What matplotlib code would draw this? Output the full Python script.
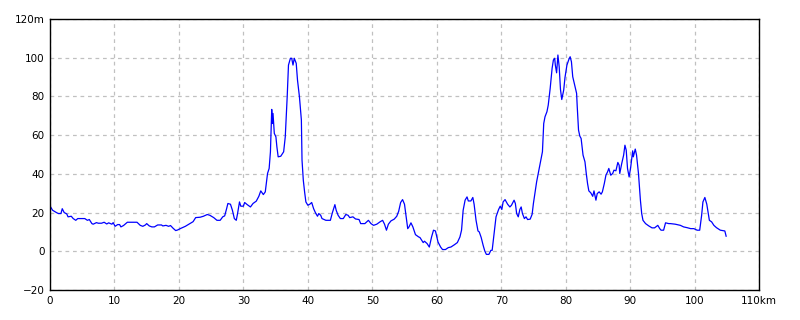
import matplotlib
matplotlib.use('Agg')
import matplotlib.pyplot as plt
from matplotlib.ticker import FuncFormatter, MultipleLocator

# 距離 (km)
dist_km = [0, 0.4, 1.0, 1.3, 1.7, 1.9, 2.2, 2.6, 2.8, 3.3, 3.6, 4.0, 4.3, 5.4, 5.8, 6.1, 6.5, 6.7,
           7.2, 7.5, 8.0, 8.4, 8.8, 9.1, 9.6, 9.8, 10.1, 10.5, 10.8, 11.0, 11.4, 12.0, 13.5, 14.0,
           14.4, 14.8, 15.0, 15.4, 15.8, 16.2, 16.7, 17.3, 17.5, 18.0, 18.4, 18.7, 19.1, 19.5, 19.8,
           20.2, 21.0, 21.7, 22.2, 22.6, 23.3, 23.8, 24.4, 24.8, 25.4, 25.9, 26.4, 26.8, 27.1, 27.4,
           27.6, 28.0, 28.3, 28.6, 28.9, 29.1, 29.4, 29.6, 30.0, 30.2, 30.6, 31.1, 31.5, 32.0, 32.4,
           32.7, 33.1, 33.4, 33.75, 34.0, 34.2, 34.4, 34.5, 34.6, 34.8, 35.05, 35.2, 35.4, 35.8,
           36.25, 36.5, 36.8, 37.0, 37.3, 37.5, 37.7, 37.9, 38.2, 38.4, 38.7, 39.0, 39.1, 39.3,
           39.5, 39.7, 40.0, 40.3, 40.6, 40.9, 41.2, 41.5, 41.7, 42.0, 42.2, 42.8, 43.5, 43.8, 44.2,
           44.4, 44.7, 45.05, 45.5, 45.9, 46.25, 46.5, 47.0, 47.4, 47.95, 48.2, 48.85, 49.4, 49.8,
           50.2, 50.7, 51.2, 51.6, 51.9, 52.2, 52.5, 52.9, 53.4, 53.8, 54.1, 54.4, 54.7, 55.0,
           55.25, 55.5, 55.7, 56.0, 56.3, 56.7, 57.2, 57.4, 57.9, 58.1, 58.5, 58.85, 59.2, 59.5,
           59.8, 60.2, 60.6, 60.9, 61.35, 61.8, 62.2, 62.75, 63.2, 63.6, 63.85, 64.1, 64.4, 64.7,
           64.9, 65.3, 65.6, 65.8, 66.1, 66.4, 66.6, 66.9, 67.2, 67.45, 67.7, 68.1, 68.4, 68.6,
           68.9, 69.2, 69.6, 69.85, 70.1, 70.3, 70.6, 71.0, 71.35, 71.6, 72.0, 72.2, 72.4, 72.65,
           72.9, 73.1, 73.3, 73.6, 73.85, 74.1, 74.5, 74.8, 75.0, 75.3, 75.5, 75.8, 76.1, 76.4,
           76.6, 76.8, 77.1, 77.3, 77.6, 77.9, 78.1, 78.3, 78.4, 78.6, 78.8, 79.0, 79.2, 79.4,
           79.7, 79.9, 80.2, 80.5, 80.7, 80.9, 81.1, 81.4, 81.7, 81.8, 82.0, 82.2, 82.4, 82.7,
           83.0, 83.2, 83.4, 83.6, 83.9, 84.2, 84.4, 84.7, 84.9, 85.2, 85.5, 85.7, 86.0, 86.25,
           86.5, 86.7, 87.0, 87.3, 87.5, 87.8, 88.1, 88.3, 88.4, 88.7, 89.0, 89.2, 89.4, 89.6,
           89.85, 90.1, 90.4, 90.5, 90.8, 91.0, 91.3, 91.6, 91.8, 92.0, 92.4, 92.9, 93.4, 93.8,
           94.3, 94.6, 94.8, 95.2, 95.5, 96.0, 96.25, 97.0, 97.8, 98.3, 98.85, 99.4, 99.9, 100.4,
           100.8, 101.1, 101.3, 101.6, 101.9, 102.1, 102.3, 102.65, 103.0, 103.4, 104.0, 104.7,
           104.9]

# 標高 (m)
elev_m = [23.4, 21.2, 20, 19.5, 19.5, 22, 20, 19.3, 17.8, 18.1, 16.9, 16, 16.9, 16.9, 16, 16.4,
          14.3, 14, 14.8, 14.5, 14.5, 15, 14.1, 14.7, 14, 14.8, 12.9, 13.8, 13.8, 12.6, 13.3, 15,
          15, 13.4, 12.9, 13.6, 14.3, 13.1, 12.6, 12.6, 13.6, 13.6, 13.1, 13.4, 12.9, 13.3, 11.9,
          10.7, 11, 11.7, 12.9, 14.3, 15.3, 17.4, 17.6, 18.1, 19, 18.6, 17.4, 16, 16, 17.8, 18.3,
          22, 24.7, 24.3, 21.2, 16.9, 16, 19.5, 25.5, 23.3, 23.3, 25.2, 24.1, 22.9, 24.7, 25.9,
          28.4, 31.2, 29.3, 30.7, 40.2, 42.8, 51.4, 73.3, 66, 71.2, 60.9, 59.1, 54, 48.8, 49.1,
          51.4, 59.1, 79.8, 96.2, 99.7, 99.7, 96.2, 99.7, 97.1, 88.4, 79.8, 67.8, 47.1, 36.7,
          30.7, 25.5, 23.8, 24.3, 25.2, 22, 19.8, 18.1, 19.5, 18.6, 16.9, 16, 16, 19.8, 24.1,
          21.2, 18.6, 16.9, 16.9, 19, 18.6, 17.4, 17.8, 16.7, 16.4, 14.3, 14.3, 16, 14.3, 13.4,
          14, 15.2, 16, 14, 10.9, 14, 15.7, 16.6, 18.1, 20.7, 25.2, 26.7, 24.3, 17.8, 11.7, 12.6,
          14.7, 12.6, 8.6, 7.4, 7.1, 4.5, 5.2, 4, 2.2, 7.4, 10.9, 10.5, 4.8, 2.2, 0.9, 0.9, 1.9,
          2.2, 3.4, 4.5, 7.4, 10.9, 21.2, 26.4, 28.1, 26, 26, 27.8, 24.3, 16, 10.5, 10, 7.1, 3.1,
          0.2, -1.6, -1.6, 0.5, 0.5, 9.1, 17.8, 21.6, 23.3, 21.6, 25.5, 26.7, 24.3, 22.9, 23.8,
          26.4, 24.7, 19.5, 17.8, 21.6, 22.9, 19.5, 16.9, 17.8, 16.4, 16.6, 19.1, 24.7, 31.6,
          35.9, 41, 46.2, 51.4, 66, 69.5, 72.1, 75.5, 84.1, 94.5, 98.8, 99.7, 96.2, 92.2, 101.4,
          95.3, 83.6, 78.4, 83.3, 89.8, 96.2, 99.1, 100.5, 97.9, 90.2, 85.9, 81.6, 74.7, 62.6,
          59.5, 58.3, 49.7, 46.2, 40.2, 35, 31.2, 30.2, 28.4, 31.2, 26.4, 29.8, 30.7, 29.5, 30.7,
          35, 39.3, 41, 42.8, 39.3, 40.2, 41.9, 41.6, 45.9, 44.5, 40.2, 45.3, 49.7, 54.8, 52.2,
          42.8, 38.4, 43.6, 51.9, 48.8, 52.8, 49.7, 40.2, 26.4, 19.5, 16, 14.3, 13.1, 12.1, 12.1,
          13.4, 11.7, 10.9, 10.9, 14.7, 14.3, 14.3, 14, 13.4, 12.6, 12.2, 11.7, 11.7, 10.9, 10.9,
          18.6, 25.5, 27.8, 24.3, 20, 16, 15.2, 13.4, 12.2, 10.9, 10.5, 7.8]

x_ticks = list(range(0, 111, 10))
y_ticks = list(range(-20, 121, 20))


def fmt_x(v, pos):
    v = int(round(v))
    return f'{v}km' if v == 110 else f'{v}'


def fmt_y(v, pos):
    v = int(round(v))
    if v == 120:
        return f'{v}m'
    return f'\u2212{-v}' if v < 0 else f'{v}'


plt.rcParams['font.family'] = ['DejaVu Sans']
fig = plt.figure(figsize=(8, 3.2), dpi=100)
ax = fig.add_axes([50 / 800, 30 / 320, 709 / 800, 271 / 320])

# 標高プロファイル
ax.plot(dist_km, elev_m, color='#0000ff', lw=0.9)

ax.set_xlim(0, 110)
ax.set_ylim(-20, 120)
ax.set_xticks(x_ticks)
ax.set_yticks(y_ticks)
ax.xaxis.set_major_formatter(FuncFormatter(fmt_x))
ax.yaxis.set_major_formatter(FuncFormatter(fmt_y))
ax.tick_params(length=0, labelsize=7.5, pad=4)
ax.grid(True, color='#c0c0c0', ls=(0, (3, 3)), lw=0.9)
for s in ax.spines.values():
    s.set_color('black')
    s.set_linewidth(1.0)

fig.savefig('out.png', dpi=100)
